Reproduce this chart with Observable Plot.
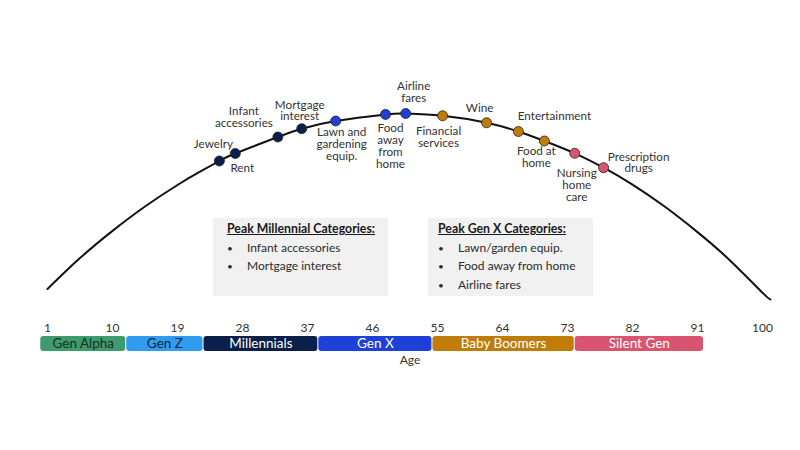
<!DOCTYPE html>
<html>
<head>
<meta charset="utf-8">
<script src="https://cdn.jsdelivr.net/npm/d3@7"></script>
<script src="https://cdn.jsdelivr.net/npm/@observablehq/plot@0.6"></script>
<style>
  html, body { margin: 0; padding: 0; background: #fff; }
  #wrap { position: relative; width: 800px; height: 450px; overflow: hidden; font-family: Lato, "Open Sans", sans-serif; }
  #wrap svg { display: block; }
  .box { position: absolute; background: #f1f1f1; color: #2b2b2b; font-size: 12px; line-height: 18.5px; box-sizing: border-box; padding-top: 2px; }
  .box .t { font-weight: bold; text-decoration: underline; color: #1a1a1a; font-size: 12.3px; }
  .box .b { position: relative; padding-left: 20px; }
  .box .b::before { content: "•"; position: absolute; left: 0; font-size: 10px; }
</style>
</head>
<body>
<div id="wrap">
  <div id="topChart"></div>
  <div id="bottomChart"></div>
  <div class="box" style="left:213px; top:218px; width:175px; height:78px; padding-left:14px;">
    <div class="t">Peak Millennial Categories:</div>
    <div class="b">Infant accessories</div>
    <div class="b">Mortgage interest</div>
  </div>
  <div class="box" style="left:428px; top:218px; width:165px; height:78px; padding-left:10px;">
    <div class="t">Peak Gen X Categories:</div>
    <div class="b">Lawn/garden equip.</div>
    <div class="b">Food away from home</div>
    <div class="b">Airline fares</div>
  </div>
</div>
<script>
// ---- Data ----
const categories = ["Jewelry", "Rent", "Infant\naccessories", "Mortgage\ninterest", "Lawn and\ngardening\nequip.",
  "Food\naway\nfrom\nhome", "Airline\nfares", "Financial\nservices", "Wine", "Entertainment",
  "Food at\nhome", "Nursing\nhome\ncare", "Prescription\ndrugs"];
const peakAges = [24.8, 27.0, 32.9, 36.2, 40.9, 47.8, 50.6, 55.7, 61.8, 66.2, 69.8, 74.0, 78.0];
const spending = [74.75, 78.5, 86.75, 90.9, 94.75, 98.05, 98.5, 97.35, 93.85, 89.5, 84.75, 78.6, 71.4];
const peakGeneration = ["Millennials", "Millennials", "Millennials", "Millennials", "Gen X", "Gen X", "Gen X",
  "Baby Boomers", "Baby Boomers", "Baby Boomers", "Baby Boomers", "Silent Gen", "Silent Gen"];

// spending curve samples outside the labelled points
const curveAges = [1, 5.5, 10, 14.5, 19, 22, 82, 86.5, 91, 95.5, 100, 101.1];
const curveValues = [10.75, 26.2, 39.8, 52, 62.75, 69.15, 62.95, 51.85, 39.2, 25.05, 8.9, 5.5];

const genNames = ["Gen Alpha", "Gen Z", "Millennials", "Gen X", "Baby Boomers", "Silent Gen"];
const genStart = [0, 11.9, 22.6, 38.5, 54.3, 74.0];
const genEnd = [11.9, 22.6, 38.5, 54.3, 74.0, 91.9];

const tickAges = [1, 10, 19, 28, 37, 46, 55, 64, 73, 82, 91, 100];

// ---- Styling ----
const genColors = ["#3f9a6d", "#2f9cf0", "#0b1f4b", "#1c40d8", "#bf7d08", "#d9546e"];
const genTextColors = ["#18301f", "#0d2748", "#ffffff", "#ffffff", "#ffffff", "#ffffff"];
// label offsets [dx, dy] in pixels relative to each dot
const labelOffsets = [[-6, -17], [7, 15], [-34, -20], [-2, -18], [6, 23], [5, 32], [8, -21],
  [-4, 21], [-7, -15], [36, -15], [-8, 16], [2, 32], [35, -5]];

const points = categories.map((c, i) => ({label: c, age: peakAges[i], value: spending[i], gen: peakGeneration[i]}));
const curve = curveAges.map((a, i) => ({age: a, value: curveValues[i]}))
  .concat(points.map(p => ({age: p.age, value: p.value})))
  .sort((a, b) => a.age - b.age);
const gens = genNames.map((n, i) => ({name: n, start: genStart[i], end: genEnd[i], textColor: genTextColors[i]}));

const chartTop = Plot.plot({
  width: 800, height: 320,
  marginTop: 110, marginBottom: 10, marginLeft: 47, marginRight: 38,
  x: {domain: [1, 100], axis: null},
  y: {domain: [0, 100], axis: null},
  color: {domain: genNames, range: genColors},
  style: {fontFamily: "Lato, 'Open Sans', sans-serif", fontSize: "12px", background: "transparent", overflow: "visible"},
  marks: [
    Plot.line(curve, {x: "age", y: "value", curve: "natural", stroke: "#111", strokeWidth: 2}),
    Plot.dot(points, {x: "age", y: "value", fill: "gen", r: 5, stroke: "#222", strokeWidth: 0.8}),
    ...points.map((p, i) => Plot.text([p], {
      x: "age", y: "value", text: "label",
      dx: labelOffsets[i][0], dy: labelOffsets[i][1],
      lineAnchor: "middle", lineHeight: 1.01, fill: "#333", fontSize: 11.7
    }))
  ]
});
document.getElementById("topChart").appendChild(chartTop);

const chartBottom = Plot.plot({
  width: 800, height: 130,
  marginTop: 16, marginBottom: 99, marginLeft: 47, marginRight: 38,
  x: {domain: [1, 100], axis: "top", ticks: tickAges, tickSize: 0, tickPadding: 5, tickFormat: d => String(d), label: null},
  color: {domain: genNames, range: genColors},
  style: {fontFamily: "Lato, 'Open Sans', sans-serif", fontSize: "12px", color: "#333", background: "transparent", overflow: "visible"},
  marks: [
    Plot.rect(gens, {x1: "start", x2: "end", fill: "name", rx: 3, insetLeft: 0.5, insetRight: 0.5}),
    Plot.text(gens, {x: d => (d.start + d.end) / 2, text: "name", fill: "textColor", fontSize: 13.5}),
    Plot.text(["Age"], {frameAnchor: "bottom", dx: 5, dy: 12, fill: "#333", fontSize: 12})
  ]
});
document.getElementById("bottomChart").appendChild(chartBottom);
</script>
</body>
</html>
